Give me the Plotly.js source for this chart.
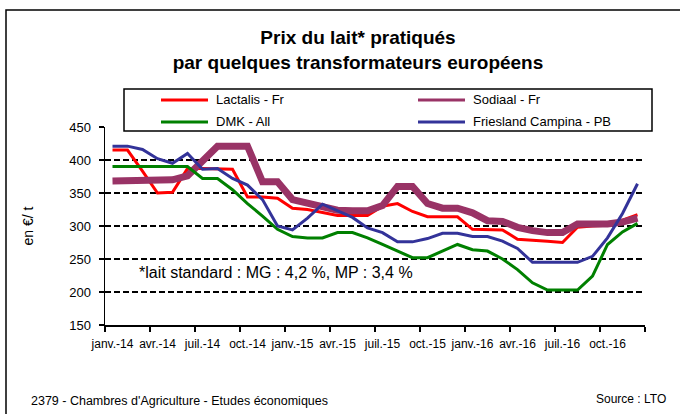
<!DOCTYPE html>
<html>
<head>
<meta charset="utf-8">
<script src="https://cdn.plot.ly/plotly-3.0.1.min.js"></script>
<style>html,body{margin:0;padding:0;background:#fff;}#chart{width:680px;height:414px;}</style>
</head>
<body>
<div id="chart"></div>
<script>
const months = ['janv.-14','févr.-14','mars-14','avr.-14','mai-14','juin-14','juil.-14','août-14','sept.-14','oct.-14','nov.-14','déc.-14',
  'janv.-15','févr.-15','mars-15','avr.-15','mai-15','juin-15','juil.-15','août-15','sept.-15','oct.-15','nov.-15','déc.-15',
  'janv.-16','févr.-16','mars-16','avr.-16','mai-16','juin-16','juil.-16','août-16','sept.-16','oct.-16','nov.-16','déc.-16'];

const seriesNames = ['Lactalis - Fr', 'Sodiaal - Fr', 'DMK - All', 'Friesland Campina - PB'];

const lactalis = [415,415,383,350,351,387,387,386,386,344,344,342,
  327,325,320,316,316,316,330,334,322,314,314,314,
  295,294,294,280,279,277,275,298,300,301,309,317];
const sodiaal = [368,368,368,368,370,376,398,421,421,421,367,367,
  340,334,330,324,323,323,331,360,360,334,327,327,
  320,308,307,298,293,290,290,303,303,303,306,312];
const dmk = [390,390,390,390,390,390,372,372,355,334,315,295,
  284,282,282,290,290,282,272,262,252,252,262,272,
  264,262,250,234,214,203,203,203,224,272,291,304];
const friesland = [421,421,416,402,395,410,386,387,372,362,340,300,
  294,312,333,323,313,297,290,276,276,281,289,289,
  284,284,277,266,245,245,245,245,254,282,319,364];

const colors = ['#FF0000', '#993366', '#008000', '#333399'];
const widths = [3, 7, 3, 3];
const allSeries = [lactalis, sodiaal, dmk, friesland];

const FONT = '"Liberation Sans", Arial, sans-serif';

// plot area in pixels
const L = 105, R = 645, T = 127, B = 325;
const px = x => (x - L) / (R - L);
const py = y => (B - y) / (B - T);

const traces = allSeries.map((s, i) => ({
  type: 'scatter', mode: 'lines', x: months, y: s, name: seriesNames[i],
  line: {color: colors[i], width: widths[i]}, showlegend: false, hoverinfo: 'skip'
}));

const shapes = [
  // outer frame
  {type: 'rect', xref: 'paper', yref: 'paper', x0: px(6), x1: px(700), y0: py(430), y1: py(10),
   line: {color: '#000', width: 1.5}, layer: 'above'},
  // legend box
  {type: 'rect', xref: 'paper', yref: 'paper', x0: px(124), x1: px(652), y0: py(131), y1: py(89),
   line: {color: '#000', width: 1.5}, fillcolor: 'rgba(0,0,0,0)', layer: 'above'}
];
const legendPos = [[161, 100], [418, 100], [161, 122], [418, 122]];
const annotations = [];
legendPos.forEach((p, i) => {
  shapes.push({type: 'line', xref: 'paper', yref: 'paper', x0: px(p[0]), x1: px(p[0] + 47), y0: py(p[1]), y1: py(p[1]),
    line: {color: colors[i], width: 3}, layer: 'above'});
  annotations.push({xref: 'paper', yref: 'paper', x: px(p[0] + 53), y: py(p[1]), xanchor: 'left', yanchor: 'middle',
    text: seriesNames[i], showarrow: false, font: {family: FONT, size: 13, color: '#000'}});
});
annotations.push({xref: 'paper', yref: 'paper', x: px(137), y: py(272), xanchor: 'left', yanchor: 'middle',
  text: '*lait standard : MG : 4,2 %, MP : 3,4 %', showarrow: false, font: {family: FONT, size: 16, color: '#000'}});
annotations.push({xref: 'paper', yref: 'paper', x: px(29), y: py(401), xanchor: 'left', yanchor: 'middle',
  text: "2379 - Chambres d'Agriculture - Etudes économiques", showarrow: false, font: {family: FONT, size: 12.5, color: '#000'}});
annotations.push({xref: 'paper', yref: 'paper', x: px(668), y: py(399), xanchor: 'right', yanchor: 'middle',
  text: 'Source : LTO', showarrow: false, font: {family: FONT, size: 12, color: '#000'}});

const layout = {
  width: 680, height: 414,
  margin: {l: L, r: 680 - R, t: T, b: 414 - B, pad: 0},
  paper_bgcolor: '#fff', plot_bgcolor: '#fff',
  font: {family: FONT, color: '#000'},
  title: {text: '<b>Prix du lait* pratiqués<br>par quelques transformateurs européens</b>',
    xref: 'paper', x: px(358), xanchor: 'center', yref: 'container', y: 1 - 44 / 414, yanchor: 'middle',
    font: {family: FONT, size: 19, color: '#000'}},
  xaxis: {type: 'category', categoryorder: 'array', categoryarray: months, range: [-0.5, 35.5],
    dtick: 3, tickson: 'boundaries', ticks: 'outside', ticklen: 5, tickwidth: 1.5, tickcolor: '#000',
    ticklabelstandoff: 7,
    showline: true, linecolor: '#000', linewidth: 1.5, showgrid: false, zeroline: false,
    tickangle: 0, tickfont: {family: FONT, size: 12, color: '#000'}, fixedrange: true},
  yaxis: {range: [150, 450], dtick: 50, tick0: 150, ticks: 'outside', ticklen: 5, tickwidth: 1.5, tickcolor: '#000',
    ticklabelstandoff: 5,
    showline: true, linecolor: '#000', linewidth: 1.5, showgrid: true, gridcolor: '#000', gridwidth: 1.2,
    griddash: '6px,3px', zeroline: false, tickfont: {family: FONT, size: 13, color: '#000'},
    title: {text: 'en €/ t', standoff: 32, font: {family: FONT, size: 14, color: '#000'}}, fixedrange: true},
  shapes: shapes, annotations: annotations, showlegend: false
};

Plotly.newPlot('chart', traces, layout, {staticPlot: true, displayModeBar: false});
</script>
</body>
</html>
